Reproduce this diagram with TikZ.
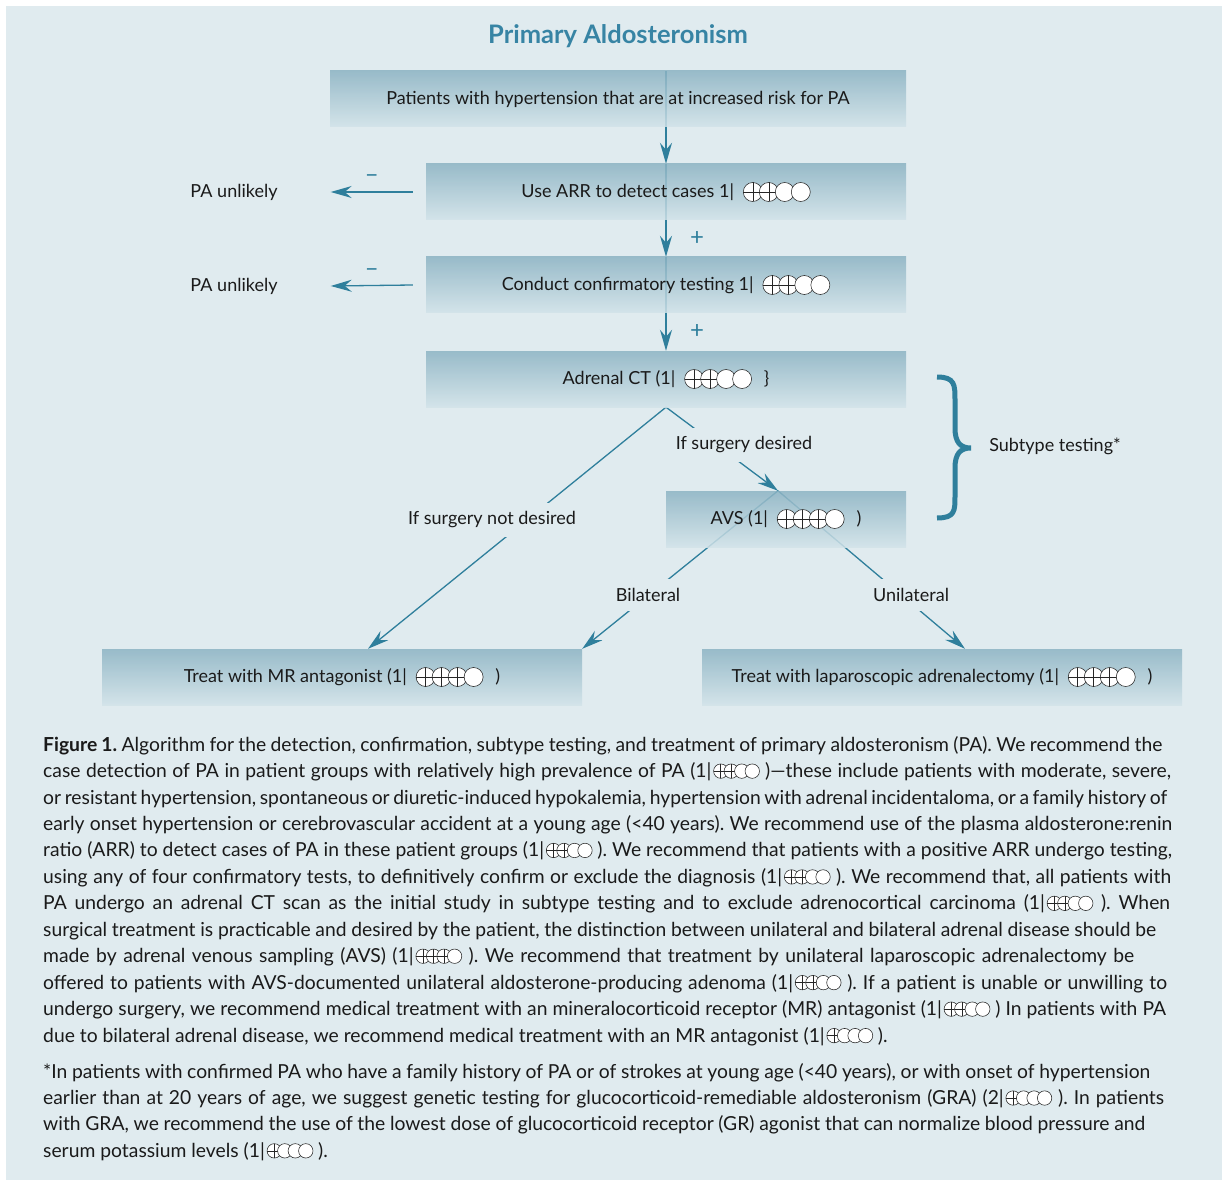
\documentclass[tikz,border=0pt]{standalone}
\usepackage{fontspec}
\setmainfont{Lato}
\usetikzlibrary{arrows.meta}
\definecolor{panel}{HTML}{E0EBEF}
\definecolor{acc}{HTML}{2F7F9C}
\definecolor{ttl}{HTML}{3784A4}
\definecolor{btop}{HTML}{8CB3C3}
\definecolor{bbot}{HTML}{D2E3E9}
\definecolor{txt}{HTML}{1A1A1A}
\pgfdeclarelayer{bg}
\pgfsetlayers{bg,main}
\frenchspacing
\newcommand{\qsym}[3]{\tikz[x=1pt,y=1pt,baseline={(0pt,-0.33em)},line width=0.55pt]{\foreach \i in {1,2,3,4}{\filldraw[fill=white,draw=black!85] ({(\i-1)*#3},0) circle[radius=#2];\ifnum\i>#1\relax\else\draw[black!85] ({(\i-1)*#3-#2},0) -- ({(\i-1)*#3+#2},0) ({(\i-1)*#3},{-#2}) -- ({(\i-1)*#3},#2);\fi}}}
\newcommand{\capsym}[1]{\hspace{2pt}\qsym{#1}{7.2}{10.5}}
\newcommand{\capline}[2]{\makebox[#1pt][s]{#2}}
\tikzset{
 flowbox/.style={top color=btop, bottom color=bbot, fill opacity=0.85, text opacity=1, minimum height=56pt, inner sep=0pt, font=\fontsize{18}{21}\selectfont, text=txt},
 arr/.style={draw=acc, line width=1.3pt, -{Stealth[length=21pt,width=12pt,inset=7pt]}},
 ln/.style={draw=acc, line width=1.3pt},
 lbl/.style={fill=panel, inner xsep=3pt, inner ysep=9pt, font=\fontsize{18}{21}\selectfont, text=txt},
 plaintxt/.style={inner sep=0pt, font=\fontsize{18}{21}\selectfont, text=txt},
 signlbl/.style={text=acc, font=\fontsize{24}{24}\selectfont},
 captxt/.style={anchor=base west, inner sep=0pt, font=\frenchspacing\fontsize{19.3}{22}\selectfont, text=txt},
}
\begin{document}
\begin{tikzpicture}[x=1pt,y=-1pt]
\useasboundingbox (0,0) rectangle (1227,1185);
% title
\node[font=\bfseries\fontsize{25.5}{28}\selectfont, text=ttl] (title) at (618,36) {Primary Aldosteronism};
% boxes
\node[flowbox, minimum width=576pt] (b1) at (618,99) {Patients with hypertension that are at increased risk for PA};
\node[flowbox, minimum width=480pt] (b2) at (666,192) {Use ARR to detect cases 1|\hspace{9pt}\qsym{2}{9.5}{16}};
\node[flowbox, minimum width=480pt] (b3) at (666,285) {Conduct confirmatory testing 1|\hspace{9pt}\qsym{2}{9.5}{16}};
\node[flowbox, minimum width=480pt] (b4) at (666,379) {Adrenal CT (1|\hspace{9pt}\qsym{2}{9.5}{16}\hspace{12pt}\}};
\node[flowbox, minimum width=240pt] (avs) at (786,519) {AVS (1|\hspace{9pt}\qsym{3}{9.5}{16}\hspace{12pt})};
\node[flowbox, minimum width=480pt] (mr) at (342,677) {Treat with MR antagonist (1|\hspace{9pt}\qsym{3}{9.5}{16}\hspace{12pt})};
\node[flowbox, minimum width=480pt] (lap) at (942,677) {Treat with laparoscopic adrenalectomy (1|\hspace{9pt}\qsym{3}{9.5}{16}\hspace{12pt})};
% side texts
\node[plaintxt] (u1) at (234,192) {PA unlikely};
\node[plaintxt] (u2) at (234,286) {PA unlikely};
\node[lbl] (l1) at (492,520) {If surgery not desired};
\node[lbl] (l2) at (744,445) {If surgery desired};
\node[lbl] (l3) at (648,595) {Bilateral};
\node[lbl] (l4) at (911,595) {Unilateral};
\node[plaintxt] (st) at (1055,446) {Subtype testing*};
\coordinate (vx) at (666,0);
\begin{pgfonlayer}{bg}
\fill[white] (0,0) rectangle (1227,1185);
\fill[panel] (6,6) rectangle (1222,1180);
\draw[ln] (b1.north -| vx) -- (b1.south -| vx);
\draw[arr] (b1.south -| vx) -- (b2.north -| vx);
\draw[ln] (b2.north -| vx) -- (b2.south -| vx);
\draw[arr] (b2.south -| vx) -- node[signlbl, xshift=31pt]{+} (b3.north -| vx);
\draw[ln] (b3.north -| vx) -- (b3.south -| vx);
\draw[arr] (b3.south -| vx) -- node[signlbl, xshift=31pt]{+} (b4.north -| vx);
\draw[arr] ([xshift=-13pt]b2.west) -- node[signlbl, yshift=13pt]{–} ([xshift=53pt]u1.east);
\draw[arr] ([xshift=-13pt]b3.west) -- node[signlbl, yshift=13pt]{–} ([xshift=53pt]u2.east);
\draw[arr] (b4.south) -- ([xshift=26pt]mr.north);
\draw[arr] (b4.south) -- ([xshift=-8pt]avs.north);
\draw[arr] ([xshift=-8pt]avs.north) -- (mr.north east);
\draw[arr] ([xshift=-8pt]avs.north) -- ([xshift=23pt]lap.north);
\end{pgfonlayer}
% brace
\draw[acc, line width=5pt] (937,377) .. controls (955,377) and (955,385) .. (955,400) -- (955,428) .. controls (955,442) and (960,448) .. (971,448) .. controls (960,448) and (955,454) .. (955,468) -- (955,496) .. controls (955,511) and (955,518) .. (937,518);
% caption
\node[captxt] (c1) at (43,751) {\capline{1119}{\textbf{Figure 1.} Algorithm for the detection, confirmation, subtype testing, and treatment of primary aldosteronism (PA). We recommend the}};
\node[captxt] (c2) at (43,777.5) {\capline{1128}{case detection of PA in patient groups with relatively high prevalence of PA (1|\capsym{2}\ )—these include patients with moderate, severe,}};
\node[captxt] (c3) at (43,804) {\capline{1124}{or resistant hypertension, spontaneous or diuretic-induced hypokalemia, hypertension with adrenal incidentaloma, or a family history of}};
\node[captxt] (c4) at (43,830.4) {\capline{1129}{early onset hypertension or cerebrovascular accident at a young age (<40 years). We recommend use of the plasma aldosterone:renin}};
\node[captxt] (c5) at (43,856.8) {\capline{1129}{ratio (ARR) to detect cases of PA in these patient groups (1|\capsym{2}\ ). We recommend that patients with a positive ARR undergo testing,}};
\node[captxt] (c6) at (43,883.3) {\capline{1128}{using any of four confirmatory tests, to definitively confirm or exclude the diagnosis (1|\capsym{2}\ ). We recommend that, all patients with}};
\node[captxt] (c7) at (43,909.7) {\capline{1127}{PA undergo an adrenal CT scan as the initial study in subtype testing and to exclude adrenocortical carcinoma (1|\capsym{2}\ ). When}};
\node[captxt] (c8) at (43,936.1) {\capline{1113}{surgical treatment is practicable and desired by the patient, the distinction between unilateral and bilateral adrenal disease should be}};
\node[captxt] (c9) at (43,962.6) {\capline{1091}{made by adrenal venous sampling (AVS) (1|\capsym{3}\ ). We recommend that treatment by unilateral laparoscopic adrenalectomy be}};
\node[captxt] (c10) at (43,989) {\capline{1124}{offered to patients with AVS-documented unilateral aldosterone-producing adenoma (1|\capsym{2}\ ). If a patient is unable or unwilling to}};
\node[captxt] (c11) at (43,1015.5) {\capline{1123}{undergo surgery, we recommend medical treatment with an mineralocorticoid receptor (MR) antagonist (1|\capsym{2}\ ) In patients with PA}};
\node[captxt] (c12) at (43,1042) {due to bilateral adrenal disease, we recommend medical treatment with an MR antagonist (1|\capsym{1}\ ).};
\node[captxt] (f1) at (43,1078) {\capline{1107}{*In patients with confirmed PA who have a family history of PA or of strokes at young age (<40 years), or with onset of hypertension}};
\node[captxt] (f2) at (43,1104.4) {\capline{1121}{earlier than at 20 years of age, we suggest genetic testing for glucocorticoid-remediable aldosteronism (GRA) (2|\capsym{1}\ ). In patients}};
\node[captxt] (f3) at (43,1130.8) {\capline{1102}{with GRA, we recommend the use of the lowest dose of glucocorticoid receptor (GR) agonist that can normalize blood pressure and}};
\node[captxt] (f4) at (43,1157.2) {serum potassium levels (1|\capsym{1}\ ).};
\end{tikzpicture}
\end{document}
